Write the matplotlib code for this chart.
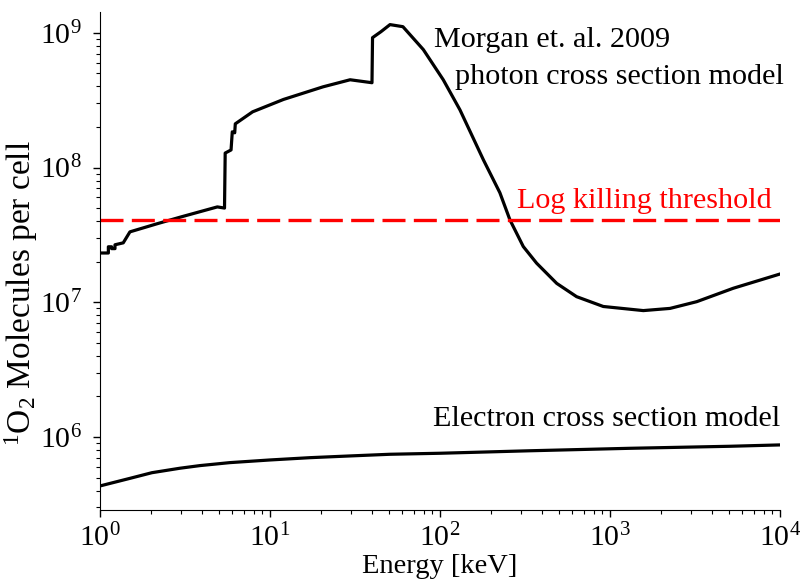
import matplotlib
matplotlib.use("Agg")
import matplotlib.pyplot as plt

plt.rcParams['font.family'] = ['Liberation Serif', 'DejaVu Serif']
plt.rcParams['mathtext.fontset'] = 'custom'
plt.rcParams['mathtext.rm'] = 'Liberation Serif'
plt.rcParams['mathtext.it'] = 'Liberation Serif:italic'

# photon cross section model (Morgan et al. 2009)
photon_e = [1.0, 1.12, 1.12, 1.17, 1.17, 1.225, 1.225, 1.37, 1.5, 2.16, 3.0,
            4.9, 5.4, 5.45, 5.9, 6.0, 6.2, 6.25, 7.9, 12, 20.5, 29.6, 39.8,
            40.1, 45, 50.8, 60.5, 79.8, 104.5, 131, 180, 225, 258, 309, 370,
            486, 636, 913, 1570, 2255, 3240, 5310, 10000]
photon_n = [2.32e7, 2.32e7, 2.58e7, 2.58e7, 2.5e7, 2.5e7, 2.67e7, 2.76e7,
            3.33e7, 3.82e7, 4.3e7, 5.1e7, 5.0e7, 1.28e8, 1.35e8, 1.84e8,
            1.81e8, 2.11e8, 2.59e8, 3.2e8, 3.97e8, 4.48e8, 4.26e8, 9.2e8,
            1.02e9, 1.15e9, 1.11e9, 7.5e8, 4.48e8, 2.68e8, 1.14e8, 6.5e7,
            4.08e7, 2.59e7, 1.95e7, 1.38e7, 1.1e7, 9.3e6, 8.67e6, 9.0e6,
            1.01e7, 1.27e7, 1.62e7]

# electron cross section model
electron_e = [1.0, 1.5, 2.02, 2.95, 3.87, 5.8, 10, 17.2, 29.5, 50.7, 100,
              338, 1310, 5080, 10000]
electron_n = [4.33e5, 4.93e5, 5.43e5, 5.86e5, 6.13e5, 6.45e5, 6.75e5, 7.02e5,
              7.23e5, 7.44e5, 7.57e5, 7.9e5, 8.24e5, 8.53e5, 8.73e5]

threshold = 4.05e7

fig = plt.figure(figsize=(8, 5.84), dpi=100)
ax = fig.add_axes([0.125, 0.1267, 0.85, 0.853])

ax.plot(photon_e, photon_n, color='k', lw=2.3)
ax.plot(electron_e, electron_n, color='k', lw=2.3)
ax.axhline(threshold, color='#ff0000', lw=2.4, dashes=(6.9, 2.5))

ax.set_xscale('log')
ax.set_yscale('log')
ax.set_xlim(1, 1e4)
ax.set_ylim(2.87e5, 1.43e9)

ax.spines['top'].set_visible(False)
ax.spines['right'].set_visible(False)
ax.tick_params(which='major', direction='out', length=5, width=1,
               labelsize=21.5, pad=5)
ax.tick_params(which='minor', direction='out', length=3, width=0.8)
ax.tick_params(axis='y', which='major', pad=8)

ax.set_xlabel('Energy [keV]', fontsize=20.5)
ax.set_ylabel(r'$^1$O$_2$ Molecules per cell', fontsize=24)
ax.xaxis.set_label_coords(0.5, -0.088)
ax.yaxis.set_label_coords(-0.088, 0.435)

fs = 21.7
ax.text(92.2, 7.87e8, 'Morgan et. al. 2009', fontsize=fs, ha='left', va='baseline')
ax.text(1.056e4, 4.18e8, 'photon cross section model', fontsize=fs,
        ha='right', va='baseline', clip_on=False)
ax.text(8940, 5.0e7, 'Log killing threshold', fontsize=fs, ha='right',
        va='baseline', color='#ff0000')
ax.text(1e4, 1.21e6, 'Electron cross section model', fontsize=fs,
        ha='right', va='baseline')

fig.savefig('out.png', dpi=100)
